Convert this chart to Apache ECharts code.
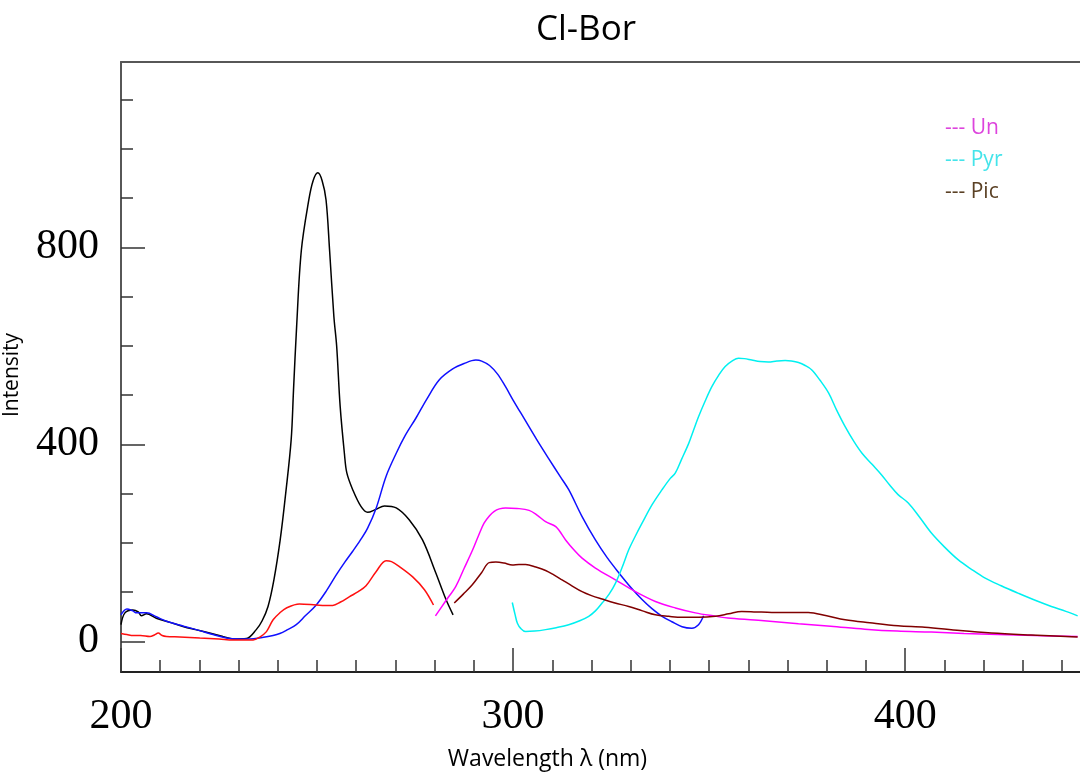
<!DOCTYPE html>
<html>
<head>
<meta charset="utf-8">
<title>Cl-Bor</title>
<script src="https://cdn.jsdelivr.net/npm/echarts@6.0.0/dist/echarts.min.js"></script>
<style>
  html, body { margin: 0; padding: 0; background: #fff; }
  #chart { width: 1080px; height: 772px; }
</style>
</head>
<body>
<div id="chart"></div>
<script>
// wavelength (nm), intensity pairs
var blackLine = [
  [200, 34], [201, 58], [203, 64], [204.4, 60], [205.2, 52], [206.5, 56], [209, 47], [212, 40],
  [216, 30], [219, 24], [222.6, 17], [226, 10], [228.6, 5], [232, 6], [234.5, 24], [236, 42],
  [237.5, 71], [239, 125], [240.6, 206], [242, 300], [243.4, 409], [244, 510], [244.8, 640],
  [246, 794], [247.9, 896], [249, 935], [250.2, 951], [251.3, 935], [252.3, 896], [253.2, 794],
  [254.3, 659], [255, 600], [255.9, 477], [257, 380], [257.6, 342], [259.1, 308], [261.2, 274],
  [262.9, 262], [265, 268], [267.2, 275], [270.2, 271], [273.5, 247], [276.9, 206], [280.3, 139],
  [282.9, 85], [284.7, 54]
];
var blueLine = [
  [200, 54], [201.5, 66], [203, 62], [204, 58], [206.5, 58], [209, 50], [211.6, 41], [216, 31],
  [220.1, 22], [223.5, 14], [226.9, 7], [230, 5], [232.8, 5], [236, 8], [238.8, 12], [240.5, 16],
  [242.5, 24], [244.7, 34], [247, 52], [249.8, 74], [252.5, 104], [254.9, 135], [257, 160],
  [259.1, 183], [261, 205], [262.9, 230], [265.1, 271], [267.6, 335], [270.2, 382], [272.5, 418],
  [275.2, 453], [278, 492], [281.2, 531], [284.6, 553], [287.5, 564], [290.5, 571], [292, 569],
  [294, 560], [296, 543], [298, 518], [300, 490], [303, 450], [306, 410], [309, 372], [312, 335],
  [314.2, 308], [317.5, 255], [321, 206], [324, 170], [327, 139], [330, 110], [332.9, 85],
  [335.5, 66], [338, 51], [340.5, 40], [343.1, 30], [345.6, 27], [347.3, 34], [348.6, 52]
];
var redLine = [
  [200, 16], [201.5, 14], [203.1, 12], [205, 12], [207.4, 10], [208.5, 13], [209.5, 17],
  [210.5, 12], [211.6, 10], [215, 9], [220.1, 7], [225, 5], [228.6, 3], [233.7, 3], [235.4, 9],
  [237.1, 20], [238.8, 44], [240.5, 58], [242.2, 68], [245.5, 76], [249.8, 74], [252, 73],
  [254, 73], [256, 80], [258.3, 91], [260.5, 101], [262.5, 113], [265.1, 142], [267.6, 164],
  [269, 162], [271, 152], [274.4, 131], [277.4, 105], [279.7, 74]
];
var unLine = [
  [280.2, 52], [282.8, 82], [285.4, 112], [287.5, 148], [289.7, 186], [291.2, 215], [292.6, 240],
  [294, 255], [295.2, 264], [296.5, 269], [298.1, 271], [301, 270], [304.1, 266], [306.2, 256],
  [308.3, 243], [310.9, 233], [313.4, 206], [315.5, 186], [317.6, 169], [321, 149], [326.1, 125],
  [331.2, 101], [336.3, 81], [341.4, 68], [346.5, 58], [351, 52], [355.5, 47], [364, 42],
  [372.8, 36], [381, 31], [389.7, 25], [398, 21], [406.7, 19], [415, 16], [423.7, 14], [433, 12],
  [444, 10]
];
var pyrLine = [
  [299.8, 79], [300.5, 55], [301.1, 37], [302, 26], [303.2, 20], [305.5, 21], [308.3, 24],
  [311, 28], [314.2, 34], [317, 42], [319.3, 51], [321, 62], [322.7, 78], [324.5, 96],
  [326.1, 118], [327.8, 150], [329.5, 186], [331.2, 214], [332.9, 240], [335.5, 278], [338, 308],
  [340, 330], [341.4, 342], [343, 370], [344.8, 402], [346, 428], [347.3, 456], [349, 488],
  [350.7, 517], [352.5, 541], [354.1, 558], [356, 570], [357.5, 575], [359, 574], [360.9, 571],
  [363, 568], [365.1, 567], [367.3, 569], [369.4, 570], [371, 569], [372.8, 566], [374.5, 560],
  [376.2, 551], [378.3, 530], [380.5, 504], [382.5, 470], [384.7, 436], [387, 405], [389, 382],
  [391.5, 360], [394, 338], [396, 318], [398.2, 298], [400.8, 281], [403.7, 252], [406.7, 220],
  [410, 192], [413.5, 166], [417, 146], [420.3, 129], [424.5, 113], [428.8, 98], [433, 84],
  [437.3, 71], [441, 61], [444, 52]
];
var picLine = [
  [285, 78], [287.3, 96], [289.6, 115], [292, 140], [293.9, 160], [295.6, 161], [297.7, 159],
  [299.8, 155], [301.5, 156], [303.2, 156], [305.8, 151], [308.3, 144], [310.4, 135], [312.5, 125],
  [315, 113], [317.6, 101], [320, 93], [322.7, 86], [326, 78], [329.5, 71], [333, 62], [336.3, 54],
  [339.7, 51], [343.1, 49], [347.3, 49], [351.6, 51], [355, 56], [358.3, 61], [362, 60], [366, 59],
  [370, 59], [375.3, 59], [380, 52], [384.7, 44], [391, 38], [398.2, 32], [405, 29], [414, 22],
  [422, 17], [432.1, 13], [444, 9]
];

// ticks
var xMinorTicks = [210, 220, 230, 240, 250, 260, 270, 280, 290, 310, 320, 330, 340, 350, 360, 370, 380, 390, 410, 420, 430, 440];
var xMajorTicks = [200, 300, 400];
var yMinorTicks = [100, 200, 300, 500, 600, 700, 900, 1000, 1100];
var yMajorTicks = [0, 400, 800];

var legendNames = ['Un', 'Pyr', 'Pic'];
var legendColors = ['#dd44dd', '#44e4ea', '#5a4024'];

var chart = echarts.init(document.getElementById('chart'));

var X_MIN = 200, X_MAX = 444.6, Y_MIN = -62, Y_MAX = 1176;
var axisColor = '#575757';

function lineSeries(name, data, color) {
  return {
    name: name,
    type: 'line',
    data: data,
    showSymbol: false,
    smooth: 0.35,
    clip: true,
    lineStyle: { color: color, width: 1.5 },
    itemStyle: { color: color },
    emphasis: { disabled: true }
  };
}

var option = {
  animation: false,
  backgroundColor: '#fff',
  title: {
    text: 'Cl-Bor',
    left: 581,
    top: 8,
    textAlign: 'center',
    textStyle: { fontFamily: 'Open Sans', fontWeight: 'normal', fontSize: 35, color: '#000' }
  },
  legend: {
    orient: 'vertical',
    left: 935,
    top: 113,
    itemWidth: 0,
    itemHeight: 20,
    itemGap: 11,
    formatter: '--- {name}',
    data: legendNames.map(function (n, i) {
      return { name: n, icon: 'none', textStyle: { color: legendColors[i] } };
    }),
    textStyle: { fontFamily: 'Open Sans', fontSize: 21, lineHeight: 20 }
  },
  grid: { left: 121, right: 0, top: 62, bottom: 100, containLabel: false, outerBoundsMode: 'none' },
  xAxis: [
    {
      type: 'value', position: 'bottom', min: X_MIN, max: X_MAX,
      axisLine: { show: true, onZero: false, lineStyle: { color: '#222', width: 2 } },
      axisTick: { show: true, inside: true, length: 12, customValues: xMinorTicks, lineStyle: { color: '#333', width: 1.5 } },
      axisLabel: { show: false },
      splitLine: { show: false }
    },
    {
      type: 'value', position: 'bottom', min: X_MIN, max: X_MAX,
      name: 'Wavelength λ (nm)',
      nameLocation: 'middle',
      nameGap: 76,
      nameTextStyle: { fontFamily: 'Open Sans', fontSize: 23, color: '#000', padding: [0, 106, 0, 0] },
      axisLine: { show: false, onZero: false },
      axisTick: { show: true, inside: true, length: 24, customValues: xMajorTicks, lineStyle: { color: '#333', width: 1.5 } },
      axisLabel: {
        show: true, customValues: xMajorTicks, margin: 24,
        fontFamily: 'Liberation Serif', fontSize: 42, color: '#000'
      },
      splitLine: { show: false }
    },
    {
      type: 'value', position: 'top', min: X_MIN, max: X_MAX,
      axisLine: { show: true, onZero: false, lineStyle: { color: axisColor, width: 2 } },
      axisTick: { show: false },
      axisLabel: { show: false },
      splitLine: { show: false }
    }
  ],
  yAxis: [
    {
      type: 'value', position: 'left', min: Y_MIN, max: Y_MAX,
      axisLine: { show: true, onZero: false, lineStyle: { color: axisColor, width: 2 } },
      axisTick: { show: true, inside: true, length: 12, customValues: yMinorTicks, lineStyle: { color: '#333', width: 1.5 } },
      axisLabel: { show: false },
      splitLine: { show: false }
    },
    {
      type: 'value', position: 'left', min: Y_MIN, max: Y_MAX,
      name: 'Intensity',
      nameLocation: 'middle',
      nameGap: 98,
      nameRotate: 90,
      nameTextStyle: { fontFamily: 'Open Sans', fontSize: 21, color: '#000', padding: [0, 16, 0, 0] },
      axisLine: { show: false, onZero: false },
      axisTick: { show: true, inside: true, length: 24, customValues: yMajorTicks, lineStyle: { color: '#333', width: 1.5 } },
      axisLabel: {
        show: true, customValues: yMajorTicks, margin: 22, padding: [20, 0, 0, 0],
        fontFamily: 'Liberation Serif', fontSize: 42, color: '#000'
      },
      splitLine: { show: false }
    }
  ],
  series: [
    lineSeries('Cl-Bor', blackLine, '#000000'),
    lineSeries('Blue', blueLine, '#1010ff'),
    lineSeries('Red', redLine, '#ff1010'),
    lineSeries('Un', unLine, '#ff00ff'),
    lineSeries('Pyr', pyrLine, '#00f0f0'),
    lineSeries('Pic', picLine, '#800000')
  ]
};

chart.setOption(option);
</script>
</body>
</html>
